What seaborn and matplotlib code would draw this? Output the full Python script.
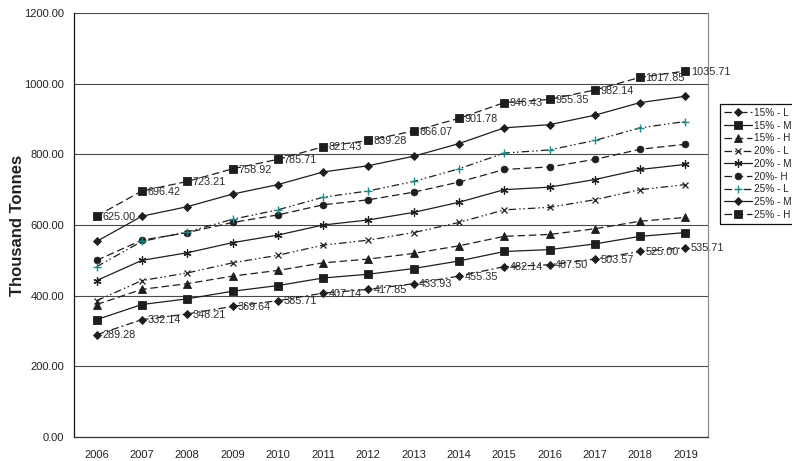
import matplotlib
matplotlib.use("Agg")
import matplotlib.pyplot as plt
import matplotlib.ticker as mticker
from matplotlib.patches import Rectangle
import numpy as np
import pandas as pd
import seaborn as sns

# Projected demand, thousand tonnes, by share scenario and growth case
years = list(range(2006, 2020))

low_15 = [289.28, 332.14, 348.21, 369.64, 385.71, 407.14, 417.85, 433.93, 455.35, 482.14, 487.50, 503.57, 525.00, 535.71]
mid_15 = [332.14, 375.00, 391.07, 412.50, 428.57, 450.00, 460.71, 476.79, 498.21, 525.00, 530.36, 546.43, 567.86, 578.57]
high_15 = [375.00, 417.86, 433.93, 455.36, 471.43, 492.86, 503.57, 519.64, 541.07, 567.86, 573.21, 589.29, 610.71, 621.43]
low_20 = [385.71, 442.86, 464.29, 492.86, 514.29, 542.86, 557.14, 578.57, 607.14, 642.86, 650.00, 671.43, 700.00, 714.29]
mid_20 = [442.86, 500.00, 521.43, 550.00, 571.43, 600.00, 614.29, 635.71, 664.29, 700.00, 707.14, 728.57, 757.14, 771.43]
high_20 = [500.00, 557.14, 578.57, 607.14, 628.57, 657.14, 671.43, 692.86, 721.43, 757.14, 764.29, 785.71, 814.29, 828.57]
low_25 = [482.14, 553.57, 580.36, 616.07, 642.86, 678.57, 696.43, 723.21, 758.93, 803.57, 812.50, 839.29, 875.00, 892.86]
mid_25 = [553.57, 625.00, 651.79, 687.50, 714.29, 750.00, 767.86, 794.64, 830.36, 875.00, 883.93, 910.71, 946.43, 964.29]
high_25 = [625.00, 696.42, 723.21, 758.92, 785.71, 821.43, 839.28, 866.07, 901.78, 946.43, 955.35, 982.14, 1017.85, 1035.71]

series_names = ["15% - L", "15% - M", "15% - H",
                "20% - L", "20% - M", "20%- H",
                "25% - L", "25% - M", "25% - H"]
series_values = [low_15, mid_15, high_15, low_20, mid_20, high_20, low_25, mid_25, high_25]
labelled = {"15% - L", "25% - H"}

y_ticks = [0, 200, 400, 600, 800, 1000, 1200]

INK = "#1e1e1e"
TEAL = "#1f8a8c"
dash_dot = (0, (6, 2.5, 1.5, 2.5))
dash_dot_dot = (0, (6, 2.5, 1.2, 2, 1.2, 2.5))
dashed = (0, (6, 3))

styles = {
    "15% - L": dict(ls=dash_dot, marker="D", ms=4.2, mfc=INK, mec=INK, mew=0.6),
    "15% - M": dict(ls="-", marker="s", ms=5.6, mfc=INK, mec=INK, mew=0.6),
    "15% - H": dict(ls=dashed, marker="^", ms=5.8, mfc=INK, mec=INK, mew=0.6),
    "20% - L": dict(ls=dash_dot_dot, marker="x", ms=5.0, mfc=INK, mec=INK, mew=0.9),
    "20% - M": dict(ls="-", marker=(6, 2, 0), ms=5.8, mfc=INK, mec=INK, mew=0.9),
    "20%- H":  dict(ls=dashed, marker="o", ms=4.8, mfc=INK, mec=INK, mew=0.6),
    "25% - L": dict(ls=dash_dot_dot, marker="+", ms=5.5, mfc=TEAL, mec=TEAL, mew=1.0),
    "25% - M": dict(ls="-", marker="D", ms=4.2, mfc=INK, mec=INK, mew=0.6),
    "25% - H": dict(ls=dashed, marker="s", ms=5.6, mfc=INK, mec=INK, mew=0.6),
}

sns.set_theme(style="white")
plt.rcParams["font.family"] = ["Liberation Sans", "DejaVu Sans"]

W, H = 792, 461
fig = plt.figure(figsize=(W / 100, H / 100), dpi=100)
ax = fig.add_axes([74 / W, 1 - 437 / H, (708 - 74) / W, (437 - 13) / H])

df = pd.DataFrame({
    "Year": np.tile(years, len(series_names)),
    "Value": np.concatenate(series_values),
    "Series": np.repeat(series_names, len(years)),
})

for name in series_names:
    sub = df[df["Series"] == name]
    st = styles[name]
    sns.lineplot(data=sub, x="Year", y="Value", ax=ax, color=INK, lw=0.9,
                 linestyle=st["ls"], marker=st["marker"], markersize=st["ms"],
                 markerfacecolor=st["mfc"], markeredgecolor=st["mec"],
                 markeredgewidth=st["mew"], label=name, zorder=3)
    if name in labelled:
        for x, v in zip(sub["Year"], sub["Value"]):
            ax.annotate(f"{v:.2f}", (x, v), xytext=(4, -0.5), textcoords="offset points",
                        ha="left", va="center", fontsize=7.8, color="#2a2a2a", zorder=4)

ax.set_xlim(2005.5, 2019.5)
ax.set_ylim(0, 1200)
ax.set_yticks(y_ticks)
ax.yaxis.set_major_formatter(mticker.FormatStrFormatter("%.2f"))
ax.set_xticks(years)
ax.set_xticklabels([str(y) for y in years],
                   fontfamily=["Liberation Sans Narrow", "Liberation Sans"], fontsize=8)
ax.set_xticks(np.arange(2005.5, 2020, 1.0), minor=True)
ax.tick_params(axis="x", which="major", length=0, pad=9, colors="#222222")
ax.tick_params(axis="x", which="minor", length=5, width=0.8, direction="out", color="#333333")
ax.tick_params(axis="y", which="major", length=5, width=0.8, direction="out",
               labelsize=8, colors="#222222", pad=2)
ax.set_xlabel("")
ax.set_ylabel("Thousand Tonnes", fontsize=12, fontweight="bold", color="#222222")
ax.yaxis.set_label_coords(-0.078, 0.5)

ax.yaxis.grid(True, color="#4a4a4a", lw=0.8)
ax.xaxis.grid(False)
ax.set_axisbelow(True)
ax.spines["top"].set_visible(False)
ax.spines["right"].set_color("#8c8c8c")
ax.spines["right"].set_linewidth(0.9)
ax.spines["left"].set_color("#111111")
ax.spines["left"].set_linewidth(0.9)
ax.spines["bottom"].set_color("#333333")
ax.spines["bottom"].set_linewidth(0.9)

handles, labels = ax.get_legend_handles_labels()
if ax.get_legend():
    ax.get_legend().remove()
leg = fig.legend(handles, labels, loc="upper left", bbox_to_anchor=(720 / W, 1 - 104 / H),
                 frameon=False, fontsize=7.2, handlelength=2.8, handletextpad=0.25,
                 labelspacing=0.27, borderpad=0.4, borderaxespad=0.0)

# Legend box runs off the right edge of the figure
fig.canvas.draw()
bb = leg.get_window_extent().transformed(fig.transFigure.inverted())
fig.add_artist(Rectangle((bb.x0, bb.y0), 1.2 - bb.x0, bb.height,
                         transform=fig.transFigure, fill=False,
                         edgecolor="#111111", linewidth=0.9, zorder=5))

fig.savefig("out.png", dpi=100)
